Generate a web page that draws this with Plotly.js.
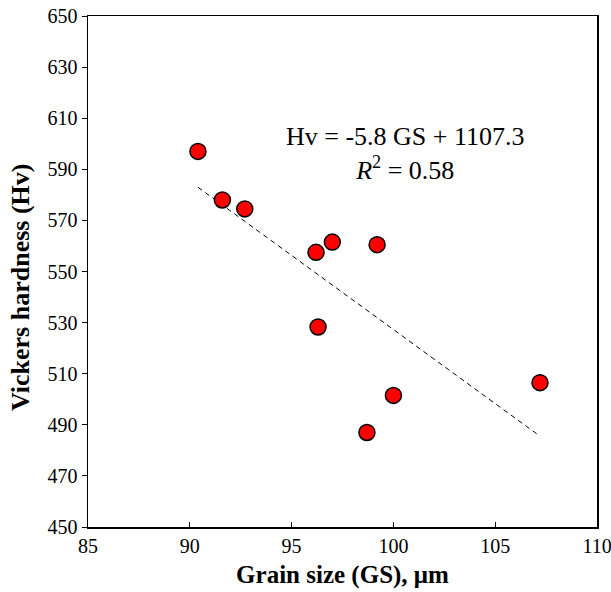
<!DOCTYPE html>
<html>
<head>
<meta charset="utf-8">
<script src="https://cdn.plot.ly/plotly-3.0.1.min.js"></script>
<style>html,body{margin:0;padding:0;background:#fff;}#chart{width:611px;height:592px;}</style>
</head>
<body>
<div id="chart"></div>
<script>
// Data
const grainSize = [90.4, 91.6, 92.7, 96.2, 97.0, 99.2, 96.3, 98.7, 100.0, 107.2];
const hardness  = [597, 578, 574.5, 557.5, 561.5, 560.5, 528.3, 487, 501.5, 506.5];
const trendX = [90.4, 107.2];
const slope = -5.8;
const intercept = 1107.3;
const trendY = trendX.map(function (x) { return slope * x + intercept; });
const xTicks = [85, 90, 95, 100, 105, 110];
const yTicks = [450, 470, 490, 510, 530, 550, 570, 590, 610, 630, 650];

const font = '"Liberation Serif", "Times New Roman", serif';

const traces = [
  {
    x: trendX, y: trendY, mode: 'lines', type: 'scatter',
    line: {color: '#000', width: 1, dash: '5px,4px'},
    hoverinfo: 'skip', showlegend: false
  },
  {
    x: grainSize, y: hardness, mode: 'markers', type: 'scatter',
    marker: {size: 16, color: '#ff0000', line: {color: '#000', width: 1.5}},
    showlegend: false
  }
];

const W = 611, H = 592, L = 88, R = 14, T = 16, B = 65;

const layout = {
  width: W, height: H,
  margin: {l: L, r: R, t: T, b: B},
  paper_bgcolor: '#fff', plot_bgcolor: '#fff',
  font: {family: font, color: '#000', size: 20},
  showlegend: false,
  xaxis: {
    range: [85, 110], tickvals: xTicks, ticktext: xTicks.map(String),
    showgrid: false, zeroline: false, showline: true, linecolor: '#000', linewidth: 1.5,
    mirror: true, ticks: 'inside', ticklen: 5, tickcolor: '#000', tickwidth: 1,
    ticklabeloverflow: 'allow',
    tickfont: {family: font, size: 20, color: '#000'},
    title: {text: '<b>Grain size (GS), μm</b>', font: {family: font, size: 25, color: '#000'}, standoff: 10}
  },
  yaxis: {
    range: [450, 650], tickvals: yTicks, ticktext: yTicks.map(String),
    showgrid: false, zeroline: false, showline: true, linecolor: '#000', linewidth: 1.5,
    mirror: true, ticks: 'outside', ticklen: 5, tickcolor: '#000', tickwidth: 1,
    ticklabeloverflow: 'allow',
    tickfont: {family: font, size: 20, color: '#000'}
  },
  annotations: [
    {
      xref: 'paper', yref: 'paper', x: 0.623, y: 0.73, xanchor: 'center', yanchor: 'middle',
      text: 'Hv = -5.8 GS + 1107.3<br><i>R</i><sup>2</sup> = 0.58',
      showarrow: false, align: 'center',
      font: {family: font, size: 26, color: '#000'}
    },
    {
      xref: 'paper', yref: 'paper',
      x: (20 - L) / (W - L - R), y: 1 - (288 - T) / (H - T - B),
      xanchor: 'center', yanchor: 'middle', textangle: -90,
      text: '<b>Vickers hardness (Hv)</b>', showarrow: false,
      font: {family: font, size: 26, color: '#000'}
    }
  ]
};

Plotly.newPlot('chart', traces, layout, {displayModeBar: false, staticPlot: true});
</script>
</body>
</html>
